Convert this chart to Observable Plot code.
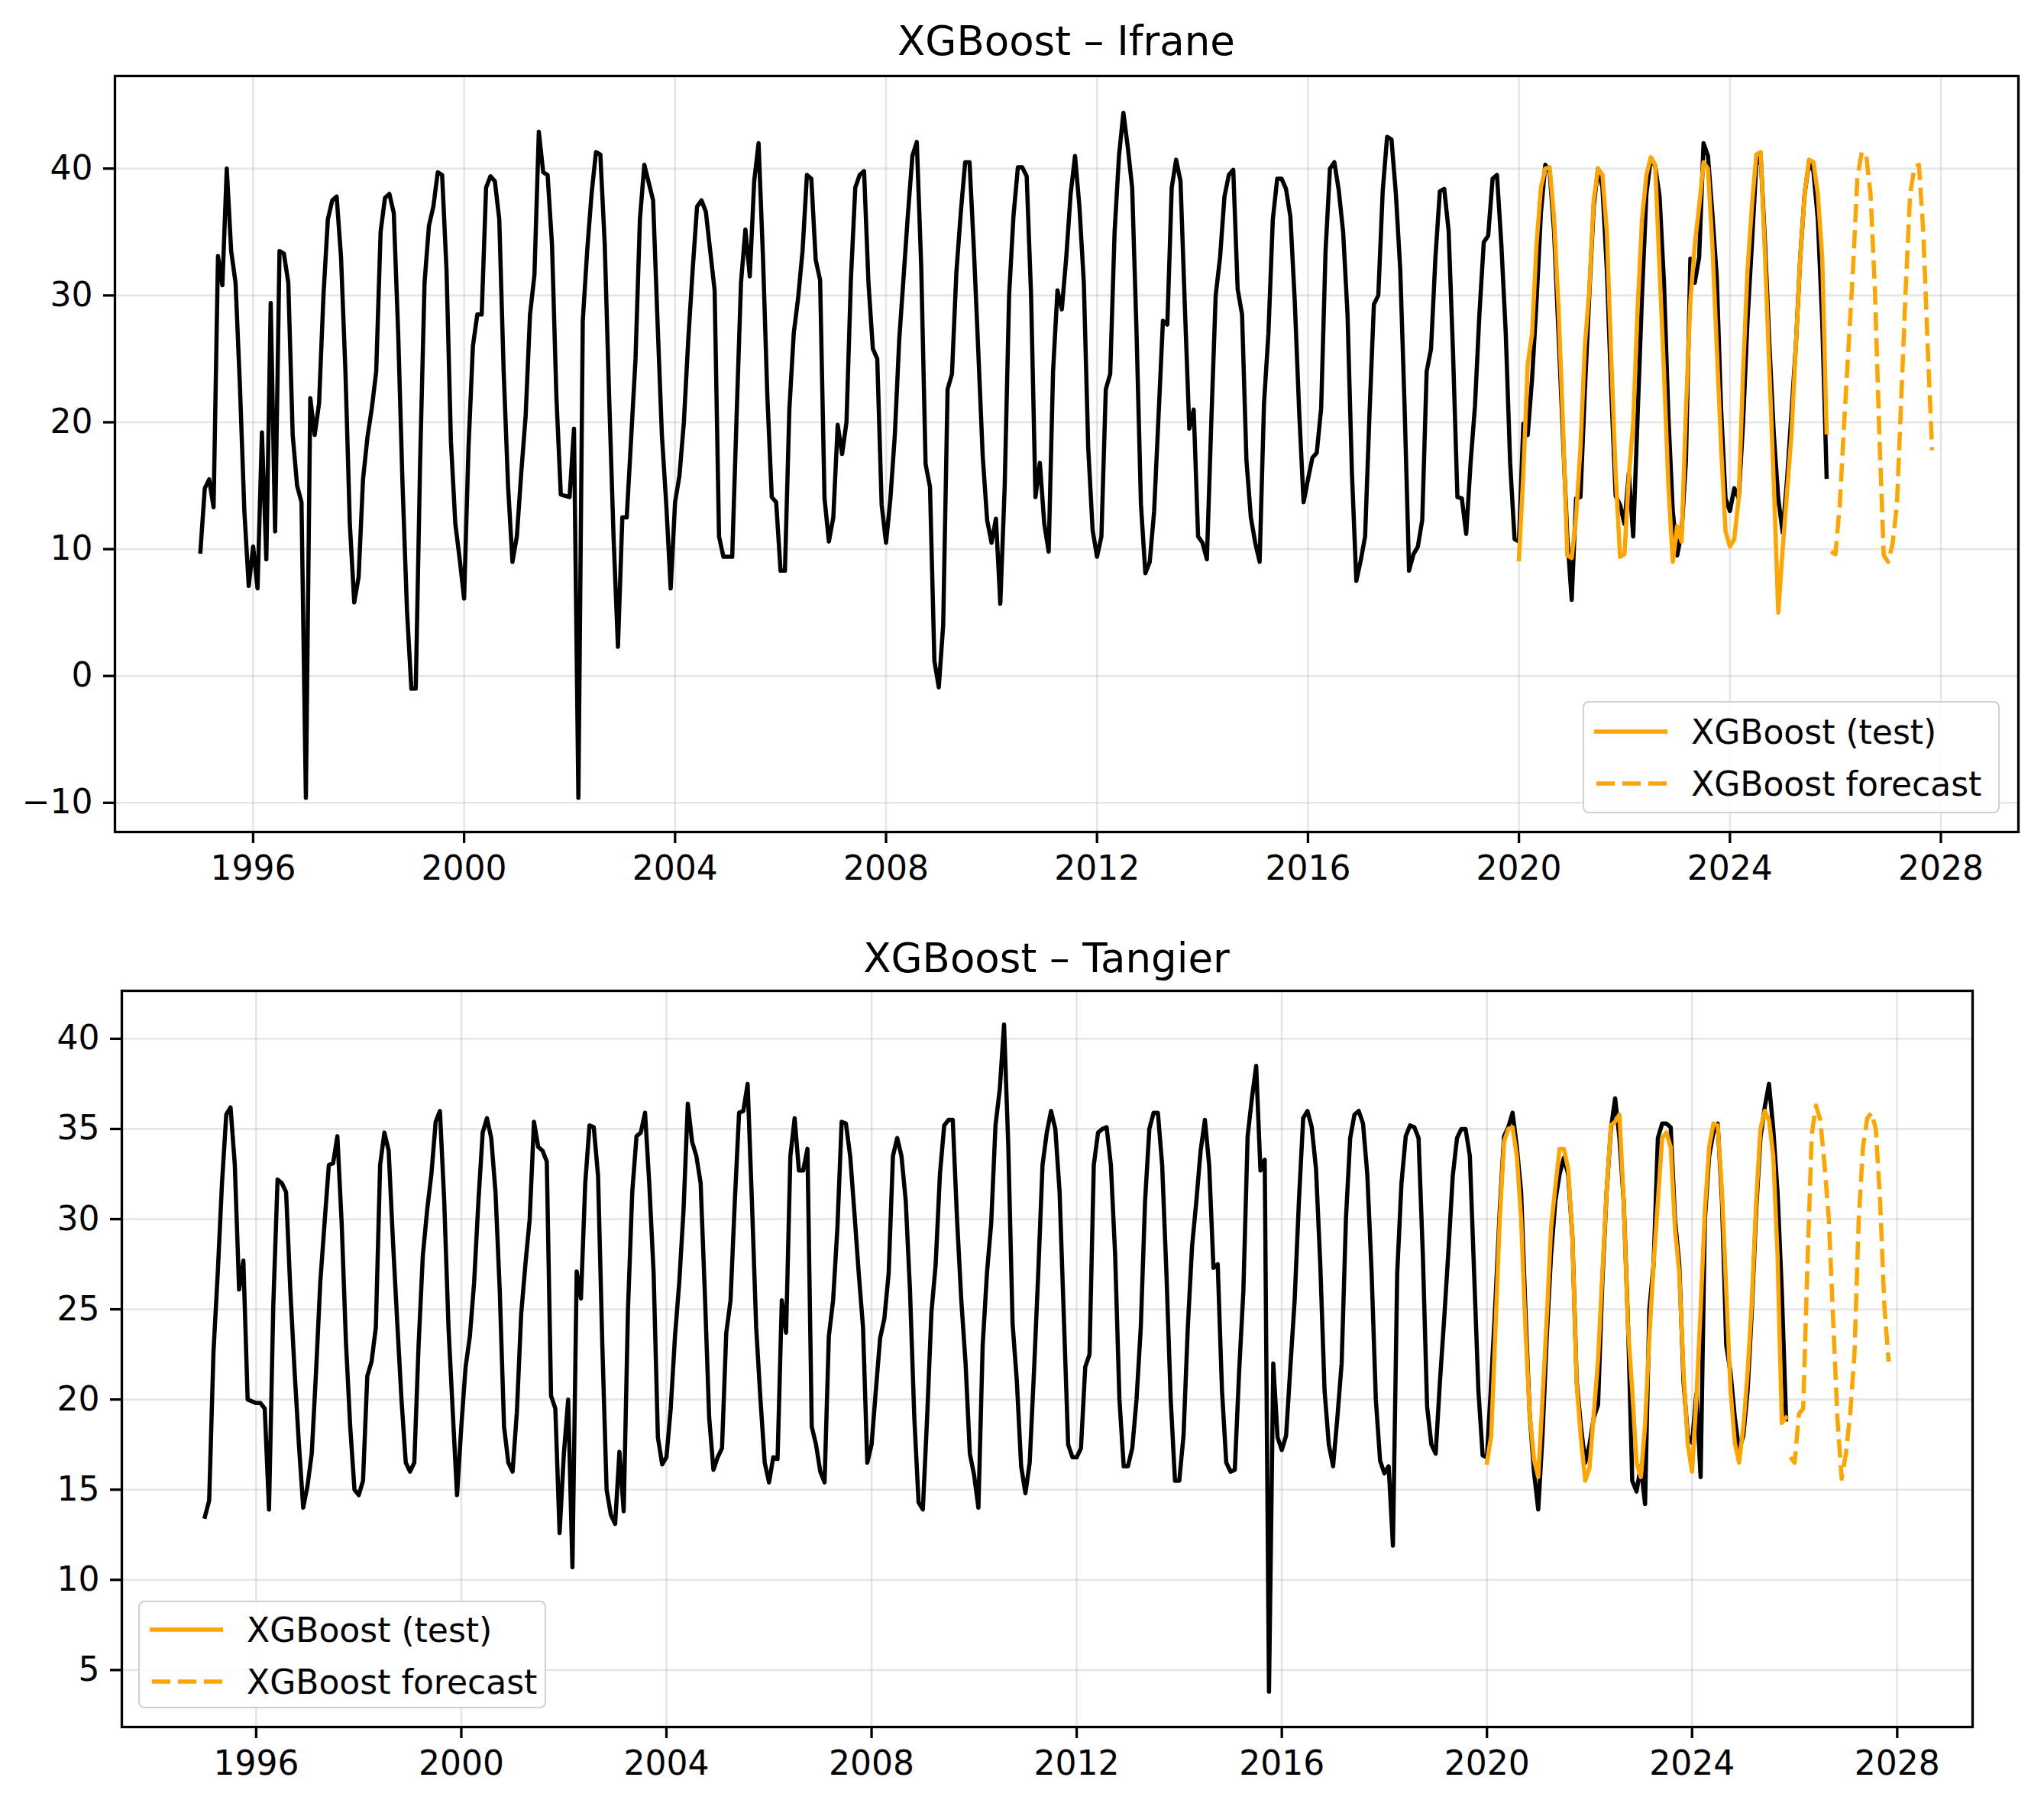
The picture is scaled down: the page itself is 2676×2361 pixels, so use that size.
<!DOCTYPE html>
<html>
<head>
<meta charset="utf-8">
<script src="https://cdn.jsdelivr.net/npm/d3@7"></script>
<script src="https://cdn.jsdelivr.net/npm/@observablehq/plot@0.6"></script>
<style>
  html, body { margin: 0; padding: 0; background: #fff; }
  #page { position: relative; width: 2676px; height: 2361px; background: #fff; font-family: "DejaVu Sans", sans-serif; }
  .panel { position: absolute; left: 0; }
  .title { position: absolute; transform: translate(-50%, -50%); font-size: 53px; color: #000; white-space: nowrap; }
  .legend { position: absolute; box-sizing: border-box; border: 2.5px solid #d0d0d0; border-radius: 8px; background: rgba(255,255,255,0.85); }
  .legend .row { position: absolute; display: flex; align-items: center; font-size: 44px; color: #000; white-space: nowrap; }
  .legend svg { display: block; }
</style>
</head>
<body>
<div id="page"></div>
<script>
// Monthly mean temperature series, one value per month starting January 1995.
const START_YEAR = 1995;
const TEST_START = 300;      // month index of the first test prediction (Jan 2020)
const FORECAST_START = 371;  // month index of the first forecast month (Dec 2025)

const ifraneObserved = [
  9.8, 14.8, 15.5, 13.3, 33.1, 30.8, 40.0, 33.5, 31.0, 22.8, 13.0, 7.1,     // 1995
  10.2, 6.9, 19.2, 9.2, 29.4, 11.4, 33.5, 33.3, 31.0, 19.0, 15.0, 13.7,     // 1996
  -9.6, 21.9, 19.0, 21.5, 30.0, 36.0, 37.5, 37.8, 33.0, 24.0, 12.0, 5.8,    // 1997
  7.8, 15.5, 18.8, 21.1, 24.0, 35.0, 37.7, 38.0, 36.5, 27.0, 15.0, 5.2,     // 1998
  -1.0, -1.0, 17.0, 31.0, 35.5, 37.0, 39.7, 39.5, 32.0, 18.5, 12.0, 9.2,    // 1999
  6.1, 18.0, 26.0, 28.5, 28.5, 38.5, 39.4, 39.0, 36.0, 24.0, 15.0, 9.0,     // 2000
  11.0, 16.0, 20.5, 28.5, 31.6, 42.9, 39.7, 39.5, 34.0, 22.0, 14.3, 14.2,   // 2001
  14.1, 19.5, -9.6, 28.0, 33.5, 38.0, 41.3, 41.1, 34.0, 22.0, 11.0, 2.3,    // 2002
  12.5, 12.5, 18.7, 25.0, 36.0, 40.3, 38.9, 37.5, 28.0, 19.0, 13.5, 6.9,    // 2003
  13.7, 15.8, 20.0, 26.5, 32.0, 37.0, 37.5, 36.6, 33.5, 30.4, 11.0, 9.4,    // 2004
  9.4, 9.4, 20.5, 31.0, 35.2, 31.5, 39.0, 42.0, 33.0, 22.0, 14.1, 13.7,     // 2005
  8.3, 8.3, 21.0, 27.0, 29.8, 33.5, 39.5, 39.2, 32.8, 31.2, 14.0, 10.6,     // 2006
  12.5, 19.8, 17.5, 20.0, 31.2, 38.5, 39.5, 39.8, 31.0, 25.8, 25.0, 13.5,   // 2007
  10.5, 14.0, 19.0, 26.5, 31.5, 36.5, 41.0, 42.1, 32.3, 16.7, 14.9, 1.2,    // 2008
  -0.9, 4.0, 22.6, 23.8, 31.8, 36.5, 40.5, 40.5, 33.5, 25.5, 17.3, 12.3,    // 2009
  10.5, 12.4, 5.7, 15.0, 30.0, 36.3, 40.1, 40.1, 39.4, 30.0, 14.1, 16.8,    // 2010
  12.0, 9.8, 24.0, 30.4, 28.9, 33.0, 38.0, 41.0, 37.0, 31.0, 18.0, 11.5,    // 2011
  9.4, 11.0, 22.6, 23.8, 35.0, 41.0, 44.4, 41.7, 38.5, 27.0, 13.5, 8.1,     // 2012
  9.0, 13.0, 20.5, 28.0, 27.7, 38.5, 40.7, 39.0, 29.0, 19.5, 21.0, 11.0,    // 2013
  10.5, 9.2, 20.0, 30.0, 33.0, 37.8, 39.5, 39.9, 30.5, 28.5, 17.0, 12.5,    // 2014
  10.5, 9.0, 21.5, 27.0, 36.0, 39.2, 39.2, 38.4, 36.2, 29.5, 20.8, 13.7,    // 2015
  15.5, 17.2, 17.6, 21.1, 33.5, 40.0, 40.5, 38.3, 35.0, 28.5, 16.0, 7.5,    // 2016
  9.1, 11.0, 20.7, 29.3, 30.0, 38.2, 42.5, 42.3, 38.0, 32.0, 21.0, 8.3,     // 2017
  9.6, 10.2, 12.3, 24.0, 25.8, 33.0, 38.2, 38.4, 35.1, 25.5, 14.1, 14.0,    // 2018
  11.2, 16.8, 21.3, 28.5, 34.2, 34.7, 39.2, 39.5, 34.0, 27.0, 16.8, 10.8,   // 2019
  10.6, 19.9, 19.0, 23.5, 29.5, 36.5, 40.3, 39.7, 35.0, 27.0, 19.0, 11.0,   // 2020
  6.0, 14.0, 14.1, 22.5, 30.0, 37.0, 40.0, 38.5, 32.0, 22.5, 14.2, 13.5,    // 2021
  12.0, 16.0, 11.0, 20.5, 30.0, 38.0, 40.8, 40.2, 37.8, 31.0, 20.5, 13.0,   // 2022
  9.5, 11.3, 17.0, 32.9, 31.0, 33.0, 42.0, 41.0, 36.5, 31.5, 21.0, 14.0,    // 2023
  13.0, 14.8, 14.0, 20.0, 28.0, 34.0, 40.3, 41.0, 34.0, 26.0, 19.0, 14.0,   // 2024
  11.3, 15.5, 20.7, 26.0, 33.0, 38.0, 40.5, 39.8, 36.0, 28.0, 15.7          // 2025
];

const ifraneTest = [
  9.2, 16.0, 24.6, 27.0, 34.0, 38.5, 40.0, 40.1, 36.0, 29.0, 20.0, 9.5,     // 2020
  9.3, 12.5, 18.0, 26.0, 30.4, 37.5, 40.0, 39.5, 35.0, 25.0, 16.0, 9.4,     // 2021
  9.6, 15.7, 20.0, 29.0, 36.0, 39.5, 40.9, 40.3, 32.0, 24.0, 15.0, 9.0,     // 2022
  11.8, 10.6, 21.0, 29.5, 34.0, 37.0, 40.5, 40.0, 34.0, 26.0, 18.0, 11.4,   // 2023
  10.2, 10.8, 14.0, 24.0, 32.0, 37.0, 41.1, 41.3, 33.0, 24.0, 15.0, 5.0,    // 2024
  10.0, 14.5, 19.0, 26.0, 33.0, 38.0, 40.7, 40.5, 38.0, 33.0, 19.2          // 2025
];

const ifraneForecast = [
  9.8,                                                                       // Dec 2025
  9.6, 13.5, 20.0, 26.0, 32.0, 39.3, 41.3, 41.1, 38.0, 30.4, 19.0, 9.5,     // 2026
  9.0, 10.4, 13.5, 22.0, 30.5, 38.0, 40.1, 40.3, 35.0, 26.0, 17.8           // 2027
];

const tangierObserved = [
  13.5, 14.4, 22.6, 27.0, 32.0, 35.8, 36.2, 33.0, 26.1, 27.7, 20.0, 19.9,   // 1995
  19.8, 19.8, 19.5, 13.9, 25.2, 32.2, 32.0, 31.5, 26.0, 21.5, 17.5, 14.0,   // 1996
  15.2, 17.0, 21.5, 26.5, 29.8, 33.0, 33.1, 34.6, 29.8, 23.2, 18.5, 15.0,   // 1997
  14.7, 15.5, 21.3, 22.1, 24.0, 33.0, 34.8, 33.8, 28.8, 24.3, 20.0, 16.5,   // 1998
  16.0, 16.5, 23.0, 28.0, 30.5, 32.5, 35.4, 36.0, 31.0, 24.0, 19.3, 14.7,   // 1999
  18.5, 21.8, 23.5, 26.5, 31.0, 34.8, 35.6, 34.5, 31.5, 26.0, 18.5, 16.5,   // 2000
  16.0, 19.3, 24.7, 27.5, 30.0, 35.4, 34.0, 33.8, 33.2, 20.2, 19.5, 12.6,   // 2001
  17.0, 20.0, 10.7, 27.1, 25.6, 32.0, 35.2, 35.1, 32.4, 23.0, 15.0, 13.6,   // 2002
  13.1, 17.1, 13.8, 25.0, 31.5, 34.6, 34.8, 35.9, 31.9, 27.0, 17.9, 16.4,   // 2003
  16.8, 19.5, 23.5, 26.5, 30.5, 36.4, 34.3, 33.5, 32.0, 25.8, 19.0, 16.1,   // 2004
  16.8, 17.3, 23.7, 25.5, 31.0, 35.9, 36.0, 37.5, 31.0, 24.0, 20.0, 16.5,   // 2005
  15.4, 16.8, 16.7, 25.5, 23.7, 33.5, 35.6, 32.7, 32.7, 33.9, 18.5, 17.5,   // 2006
  16.0, 15.4, 23.5, 25.5, 29.5, 35.4, 35.3, 33.5, 30.3, 27.0, 24.0, 16.5,   // 2007
  17.5, 20.5, 23.4, 24.5, 27.0, 33.5, 34.5, 33.5, 31.0, 26.0, 19.0, 14.3,   // 2008
  13.9, 19.0, 24.8, 27.5, 32.5, 35.2, 35.5, 35.5, 30.0, 25.5, 22.0, 17.0,   // 2009
  15.8, 14.0, 23.0, 27.0, 29.8, 35.2, 37.2, 40.8, 34.0, 24.2, 21.0, 16.3,   // 2010
  14.8, 16.5, 21.5, 27.0, 33.0, 34.8, 36.0, 35.0, 31.5, 24.5, 17.5, 16.8,   // 2011
  16.8, 17.3, 21.8, 22.5, 33.0, 34.8, 35.0, 35.1, 33.0, 28.0, 20.0, 16.3,   // 2012
  16.3, 17.3, 20.0, 24.0, 31.0, 35.0, 35.9, 35.9, 33.0, 27.0, 20.0, 15.5,   // 2013
  15.5, 18.0, 24.0, 28.5, 31.0, 33.8, 35.5, 33.0, 27.3, 27.5, 20.5, 16.5,   // 2014
  16.0, 16.1, 21.5, 26.0, 34.6, 36.7, 38.5, 32.7, 33.3, 3.8, 22.0, 17.9,    // 2015
  17.2, 18.0, 21.8, 25.5, 31.0, 35.6, 36.0, 35.1, 32.8, 27.5, 20.5, 17.5,   // 2016
  16.3, 19.0, 22.0, 30.0, 34.5, 35.8, 36.0, 35.3, 32.5, 27.1, 20.0, 16.6,   // 2017
  15.9, 16.3, 11.9, 27.0, 32.0, 34.6, 35.2, 35.1, 34.5, 28.0, 19.6, 17.5,   // 2018
  17.0, 21.0, 24.5, 28.3, 32.4, 34.5, 35.0, 35.0, 33.5, 27.0, 20.5, 16.9,   // 2019
  16.8, 21.0, 25.5, 30.5, 34.6, 35.1, 35.9, 34.0, 31.5, 25.0, 19.2, 16.0,   // 2020
  13.9, 18.0, 23.5, 28.0, 31.0, 32.5, 33.4, 32.5, 29.0, 21.0, 18.5, 16.5,   // 2021
  17.5, 19.0, 19.7, 26.5, 31.5, 35.0, 36.7, 34.5, 31.0, 24.3, 15.5, 14.9,   // 2022
  16.3, 14.2, 25.0, 27.5, 34.5, 35.3, 35.3, 35.1, 30.0, 27.5, 21.0, 18.0,   // 2023
  17.6, 20.3, 15.7, 30.0, 33.5, 34.8, 35.3, 31.0, 23.0, 21.5, 19.0, 17.2,   // 2024
  18.0, 20.5, 25.0, 30.5, 34.5, 36.2, 37.5, 35.0, 31.5, 26.0, 18.9          // 2025
];

const tangierTest = [
  16.5, 18.0, 24.0, 30.0, 34.3, 35.0, 35.1, 33.5, 30.0, 24.0, 19.2, 16.7,   // 2020
  15.7, 20.0, 24.5, 29.5, 31.8, 33.9, 33.9, 32.8, 29.0, 20.8, 17.8, 15.5,   // 2021
  16.2, 19.2, 22.2, 27.0, 31.5, 35.2, 35.4, 35.8, 31.0, 24.0, 20.5, 16.5,   // 2022
  15.7, 18.6, 23.5, 27.5, 31.0, 34.5, 34.8, 34.0, 29.5, 27.0, 21.5, 17.5,   // 2023
  16.0, 20.0, 25.0, 30.5, 34.0, 35.3, 35.2, 31.5, 26.0, 20.5, 17.6, 16.5,   // 2024
  18.5, 21.5, 25.5, 31.0, 35.0, 36.0, 35.5, 33.5, 28.0, 18.7, 19.0          // 2025
];

const tangierForecast = [
  16.8,                                                                      // Dec 2025
  16.5, 19.2, 19.5, 27.5, 34.7, 36.3, 35.5, 33.0, 30.0, 24.5, 19.0, 15.6,   // 2026
  17.0, 19.2, 22.5, 30.0, 34.0, 35.6, 35.9, 35.0, 31.0, 25.2, 22.1          // 2027
];

const yearTicks = [1996, 2000, 2004, 2008, 2012, 2016, 2020, 2024, 2028];
const ifraneYTicks = [-10, 0, 10, 20, 30, 40];
const tangierYTicks = [5, 10, 15, 20, 25, 30, 35, 40];

const seriesLabels = ["XGBoost (test)", "XGBoost forecast"];
const ORANGE = "orange";

// Turn a list of monthly values into {t, v} rows, t being the decimal year.
function monthly(values, firstIndex) {
  return values.map((v, i) => ({ t: START_YEAR + (firstIndex + i) / 12, v }));
}

function panel({ observed, test, forecast, yDomain, yTicks, height, margins }) {
  const gridStyle = { stroke: "#b0b0b0", strokeOpacity: 0.32, strokeWidth: 2.6 };
  return Plot.plot({
    width: 2676,
    height,
    marginLeft: margins.left,
    marginRight: margins.right,
    marginTop: margins.top,
    marginBottom: margins.bottom,
    style: { fontFamily: "DejaVu Sans", fontSize: "44px", color: "#000", background: "transparent", overflow: "visible" },
    x: { domain: [1993.38, 2029.47] },
    y: { domain: yDomain },
    marks: [
      Plot.gridX(yearTicks, gridStyle),
      Plot.gridY(yTicks, gridStyle),
      Plot.line(monthly(observed, 0), { x: "t", y: "v", stroke: "black", strokeWidth: 5.5, strokeLinejoin: "round", strokeLinecap: "square" }),
      Plot.line(monthly(test, TEST_START), { x: "t", y: "v", stroke: ORANGE, strokeWidth: 5.5, strokeLinejoin: "round", strokeLinecap: "square" }),
      Plot.line(monthly(forecast, FORECAST_START), { x: "t", y: "v", stroke: ORANGE, strokeWidth: 5.5, strokeDasharray: "24,10", strokeLinecap: "butt" }),
      Plot.axisX(yearTicks, { tickSize: 15, tickPadding: 16, strokeWidth: 3.3, tickFormat: d => String(d), label: null, fontSize: 44 }),
      Plot.axisY(yTicks, { tickSize: 15, tickPadding: 14, strokeWidth: 3.3, label: null, fontSize: 44 }),
      Plot.frame({ stroke: "black", strokeWidth: 3.3 })
    ]
  });
}

function legend(box) {
  const el = document.createElement("div");
  el.className = "legend";
  Object.assign(el.style, { left: box.left + "px", top: box.top + "px", width: box.width + "px", height: box.height + "px" });
  seriesLabels.forEach((label, i) => {
    const row = document.createElement("div");
    row.className = "row";
    row.style.left = "13px";
    row.style.top = (box.rowTop + i * 68 - 30) + "px";
    row.style.height = "60px";
    const ns = "http://www.w3.org/2000/svg";
    const sw = document.createElementNS(ns, "svg");
    sw.setAttribute("width", "96");
    sw.setAttribute("height", "20");
    const ln = document.createElementNS(ns, "line");
    ln.setAttribute("x1", i === 0 ? "0" : "3");
    ln.setAttribute("x2", "96");
    ln.setAttribute("y1", "10");
    ln.setAttribute("y2", "10");
    ln.setAttribute("stroke", ORANGE);
    ln.setAttribute("stroke-width", "5.5");
    if (i === 1) ln.setAttribute("stroke-dasharray", "24,10");
    sw.appendChild(ln);
    row.appendChild(sw);
    const tx = document.createElement("span");
    tx.textContent = label;
    tx.style.marginLeft = "31px";
    row.appendChild(tx);
    el.appendChild(row);
  });
  return el;
}

function title(text, x, y) {
  const el = document.createElement("div");
  el.className = "title";
  el.textContent = text;
  el.style.left = x + "px";
  el.style.top = y + "px";
  return el;
}

const page = document.getElementById("page");

// Ifrane panel: frame spans x 150..2642, y 99..1089
const ifranePanel = panel({
  observed: ifraneObserved, test: ifraneTest, forecast: ifraneForecast,
  yDomain: [-12.3, 47.3], yTicks: ifraneYTicks, height: 1200,
  margins: { left: 150, right: 34, top: 99, bottom: 111 }
});
ifranePanel.classList.add("panel");
ifranePanel.style.top = "0px";
page.appendChild(ifranePanel);
page.appendChild(title("XGBoost \u2013 Ifrane", 1396, 53));
page.appendChild(legend({ left: 2072, top: 918, width: 546, height: 147, rowTop: 38 }));

// Tangier panel: frame spans x 159..2582, y 1297..2261
const tangierPanel = panel({
  observed: tangierObserved, test: tangierTest, forecast: tangierForecast,
  yDomain: [1.84, 42.66], yTicks: tangierYTicks, height: 1161,
  margins: { left: 159, right: 94, top: 97, bottom: 100 }
});
tangierPanel.classList.add("panel");
tangierPanel.style.top = "1200px";
page.appendChild(tangierPanel);
page.appendChild(title("XGBoost \u2013 Tangier", 1370, 1254));
page.appendChild(legend({ left: 181, top: 2096, width: 534, height: 141, rowTop: 36 }));
</script>
</body>
</html>
